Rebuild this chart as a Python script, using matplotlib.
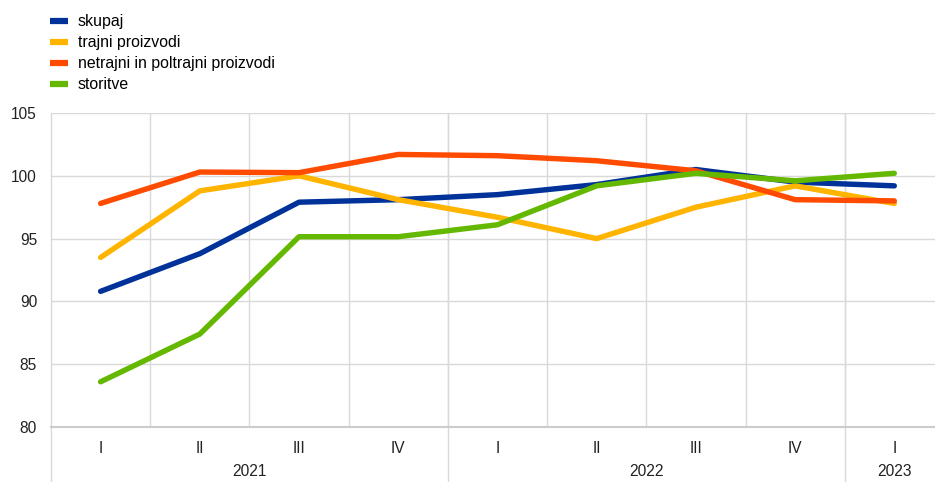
import matplotlib
matplotlib.use("Agg")
import matplotlib.pyplot as plt
from matplotlib.lines import Line2D
import matplotlib.transforms as mtransforms

plt.rcParams['font.family'] = ['Liberation Sans', 'DejaVu Sans']

quarters = ["I", "II", "III", "IV", "I", "II", "III", "IV", "I"]
years = ["2021", "2022", "2023"]
year_spans = [(0, 3), (4, 7), (8, 8)]

skupaj = [90.8, 93.8, 97.9, 98.1, 98.5, 99.3, 100.5, 99.5, 99.2]
trajni = [93.5, 98.8, 100.0, 98.1, 96.7, 95.0, 97.5, 99.2, 97.8]
netrajni = [97.8, 100.3, 100.25, 101.7, 101.6, 101.2, 100.4, 98.1, 98.0]
storitve = [83.6, 87.4, 95.15, 95.15, 96.1, 99.2, 100.2, 99.6, 100.2]

series = [
    ("skupaj", skupaj, "#003299"),
    ("trajni proizvodi", trajni, "#FFB400"),
    ("netrajni in poltrajni proizvodi", netrajni, "#FF4B00"),
    ("storitve", storitve, "#65B800"),
]

W, H = 935, 482
fig = plt.figure(figsize=(W / 100, H / 100), dpi=100)
ax = fig.add_axes([51 / W, (H - 427) / H, (W - 51) / W, (427 - 113) / H])

x = list(range(len(quarters)))
for name, vals, col in series:
    ax.plot(x, vals, color=col, lw=3.9, solid_capstyle='round',
            solid_joinstyle='round', label=name, zorder=3)

ax.set_ylim(80, 105)
ax.set_yticks([80, 85, 90, 95, 100, 105])
ax.set_xlim(-0.5, 8.41)
ax.set_xticks(x)
ax.set_xticklabels(quarters)
ax.set_xticks([i + 0.5 for i in range(8)], minor=True)
ax.tick_params(axis='both', which='both', length=0, labelsize=11.2, colors='#222222')
ax.tick_params(axis='x', pad=10)
ax.tick_params(axis='y', pad=10)

ax.grid(axis='y', which='major', color='#d9d9d9', lw=1)
ax.grid(axis='x', which='minor', color='#d9d9d9', lw=1)
ax.grid(axis='x', which='major', visible=False)
for s in ['top', 'right']:
    ax.spines[s].set_visible(False)
ax.spines['left'].set_visible(False)
ax.spines['bottom'].set_color('#cccccc')
ax.spines['bottom'].set_linewidth(1.5)

trans = mtransforms.blended_transform_factory(ax.transData, ax.transAxes)
ylow = -(482 - 427) / (427 - 113)
for sep in [-0.5, 3.5, 7.5]:
    ax.plot([sep, sep], [1, ylow], transform=trans, color='#d9d9d9', lw=1,
            clip_on=False, zorder=1)

for yr, (a, b) in zip(years, year_spans):
    ax.text((a + b) / 2, -(472 - 427) / (427 - 113), yr, transform=trans,
            ha='center', va='center', fontsize=11.2, color='#222222')

handles = [Line2D([0], [0], color=c, lw=4.5, solid_capstyle='butt') for _, _, c in series]
fig.legend(handles, [n for n, _, _ in series], loc='upper left',
           bbox_to_anchor=(47 / W, 1 - 11 / H), frameon=False, fontsize=11.4,
           handlelength=1.1, handletextpad=0.65, labelspacing=0.38,
           borderaxespad=0, borderpad=0.2)

fig.savefig("out.png", dpi=100)
